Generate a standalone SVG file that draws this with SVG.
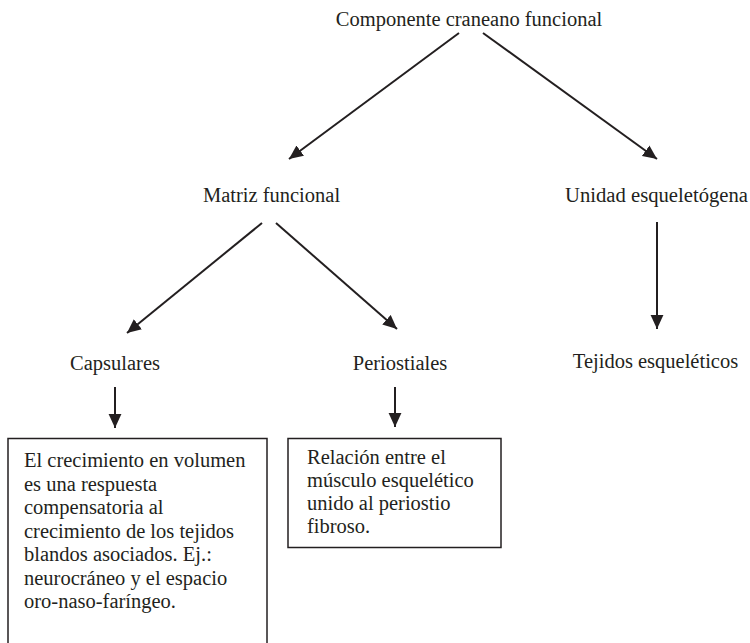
<svg xmlns="http://www.w3.org/2000/svg" width="750" height="643" viewBox="0 0 750 643">
<style>
text{font-family:'Liberation Serif','DejaVu Serif',serif;font-size:20.5px;fill:#231f20}
.c{text-anchor:middle}
.box{fill:none;stroke:#231f20;stroke-width:1.5}
.ln{stroke:#231f20;stroke-width:2;fill:none}
</style>
<defs>
<marker id="a" viewBox="0 0 12 12" refX="12" refY="6" markerWidth="14" markerHeight="14" markerUnits="userSpaceOnUse" orient="auto">
<path d="M0,0.5 L12,6 L0,11.5 z" fill="#231f20"/>
</marker>
</defs>
<rect width="750" height="643" fill="#fff"/>
<g id="connectors">
<line class="ln" x1="459" y1="33" x2="289" y2="159" marker-end="url(#a)"/>
<line class="ln" x1="483" y1="33" x2="657" y2="159" marker-end="url(#a)"/>
<line class="ln" x1="262" y1="223" x2="127" y2="333" marker-end="url(#a)"/>
<line class="ln" x1="276" y1="223" x2="397" y2="329" marker-end="url(#a)"/>
<line class="ln" x1="657" y1="222" x2="657" y2="329" marker-end="url(#a)"/>
<line class="ln" x1="115" y1="387" x2="115" y2="428" marker-end="url(#a)"/>
<line class="ln" x1="395" y1="387" x2="395" y2="427" marker-end="url(#a)"/>
</g>
<g font-family="Liberation Serif, serif">
<g id="n-componente"><text class="c" x="469" y="26">Componente craneano funcional</text></g>
<g id="n-matriz"><text class="c" x="271.5" y="202">Matriz funcional</text></g>
<g id="n-unidad"><text x="565" y="202" textLength="183" lengthAdjust="spacingAndGlyphs">Unidad esqueletógena</text></g>
<g id="n-capsulares"><text class="c" x="115" y="370">Capsulares</text></g>
<g id="n-periostiales"><text class="c" x="400" y="370">Periostiales</text></g>
<g id="n-tejidos"><text class="c" x="655.5" y="368">Tejidos esqueléticos</text></g>
<g id="n-box1">
<rect class="box" x="8" y="438.5" width="259" height="220"/>
<text x="24" y="467">El crecimiento en volumen</text>
<text x="24" y="490.5">es una respuesta</text>
<text x="24" y="514">compensatoria al</text>
<text x="24" y="537.5">crecimiento de los tejidos</text>
<text x="24" y="561">blandos asociados. Ej.:</text>
<text x="24" y="584.5">neurocráneo y el espacio</text>
<text x="24" y="608">oro-naso-faríngeo.</text>
</g>
<g id="n-box2">
<rect class="box" x="288" y="438.5" width="213" height="109"/>
<text x="307" y="463.5">Relación entre el</text>
<text x="307" y="487">músculo esquelético</text>
<text x="307" y="510">unido al periostio</text>
<text x="307" y="533">fibroso.</text>
</g>
</g>
</svg>
